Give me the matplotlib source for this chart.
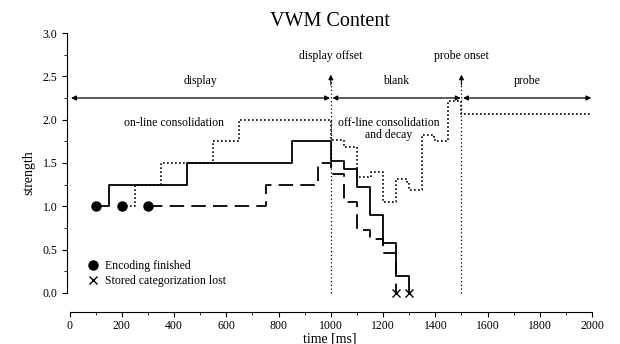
import matplotlib
matplotlib.use("Agg")
import matplotlib.pyplot as plt

plt.rcParams['font.family'] = ['Liberation Serif', 'DejaVu Serif']

# --- data ---
solid_t = [100, 150, 450, 850, 1000, 1050, 1100, 1150, 1200, 1250, 1300]
solid_y = [1.0, 1.25, 1.5, 1.75, 1.52, 1.43, 1.22, 0.9, 0.58, 0.2, 0.0]

dashed_t = [300, 750, 950, 1000, 1050, 1100, 1150, 1200, 1250]
dashed_y = [1.0, 1.25, 1.5, 1.37, 1.05, 0.73, 0.62, 0.46, 0.0]

dotted_t = [200, 250, 350, 550, 650, 1000, 1050, 1100, 1125, 1155, 1200, 1250, 1290, 1300, 1350, 1395, 1400, 1450, 1500, 2000]
dotted_y = [1.0, 1.25, 1.5, 1.75, 2.0, 1.76, 1.69, 1.34, 1.34, 1.40, 1.05, 1.31, 1.28, 1.19, 1.82, 1.80, 1.75, 2.21, 2.07, 2.07]

encoding_t = [100, 200, 300]
encoding_y = [1.0, 1.0, 1.0]
lost_t = [1250, 1300]
lost_y = [0.0, 0.0]

events_t = [1000, 1500]
events_labels = ["display offset", "probe onset"]
phase_bounds = [0, 1000, 1500, 2000]
phase_labels = ["display", "blank", "probe"]

xticks = list(range(0, 2001, 200))
yticks = [0.0, 0.5, 1.0, 1.5, 2.0, 2.5, 3.0]

fig = plt.figure(figsize=(6.2, 3.44), dpi=100)
ax = fig.add_axes([0.108, 0.093, 0.847, 0.811])

ax.step(solid_t, solid_y, where='post', color='black', lw=1.3)
ax.step(dashed_t, dashed_y, where='post', color='black', lw=1.3, dashes=(8, 4))
ax.step(dotted_t, dotted_y, where='post', color='black', lw=1.2, linestyle=(0, (1, 1.4)))

ax.plot(encoding_t, encoding_y, 'o', color='black', ms=6.5, label='Encoding finished', zorder=5)
ax.plot(lost_t, lost_y, 'x', color='black', ms=6, mew=1.0, label='Stored categorization lost', zorder=5)

# event lines with arrows
for t, lab in zip(events_t, events_labels):
    ax.plot([t, t], [0, 2.45], color='black', lw=0.9, linestyle=(0, (1, 2)))
    ax.annotate('', xy=(t, 2.52), xytext=(t, 2.40),
                arrowprops=dict(arrowstyle='-|>', color='black', lw=0.8,
                                mutation_scale=7, shrinkA=0, shrinkB=0))
    ax.text(t, 2.73, lab, ha='center', va='center', fontsize=8.5)

# phase double-arrows
for a, b, lab in zip(phase_bounds[:-1], phase_bounds[1:], phase_labels):
    ax.annotate('', xy=(b - 3, 2.25), xytext=(a + 6, 2.25),
                arrowprops=dict(arrowstyle='<|-|>', color='black', lw=0.9,
                                mutation_scale=7, shrinkA=0, shrinkB=0))
    ax.text((a + b) / 2, 2.45, lab, ha='center', va='center', fontsize=8.5)

ax.text(400, 1.96, "on-line consolidation", ha='center', va='center', fontsize=8.5)
ax.text(1222, 1.89, "off-line consolidation\nand decay", ha='center', va='center',
        fontsize=8.5, linespacing=1.05)

ax.set_xlim(-10, 2000)
ax.set_ylim(-0.22, 3.0)
ax.spines['top'].set_visible(False)
ax.spines['right'].set_visible(False)
ax.spines['left'].set_bounds(0, 3)
ax.spines['bottom'].set_bounds(0, 2000)
ax.spines['left'].set_linewidth(0.8)
ax.spines['bottom'].set_linewidth(0.8)

ax.set_xticks(xticks)
ax.set_xticks(range(100, 2000, 200), minor=True)
ax.set_yticks(yticks)
ax.set_yticks([0.25, 0.75, 1.25, 1.75, 2.25, 2.75], minor=True)
ax.set_yticklabels([f"{v:.1f}" for v in yticks])
ax.tick_params(axis='both', which='major', labelsize=8.5, length=3.5, width=0.8, direction='out')
ax.tick_params(axis='both', which='minor', length=2, width=0.6, direction='out')
ax.tick_params(axis='x', pad=2.5)

ax.set_xlabel("time [ms]", fontsize=10, labelpad=0)
ax.set_ylabel("strength", fontsize=10, labelpad=5)
ax.set_title("VWM Content", fontsize=14.5, pad=5)

ax.legend(loc='lower left', frameon=False, fontsize=8.5, handletextpad=0.4,
          borderaxespad=0.3, labelspacing=0.25, handlelength=1.2,
          bbox_to_anchor=(0.02, 0.06))

fig.savefig("out.png", dpi=100)
